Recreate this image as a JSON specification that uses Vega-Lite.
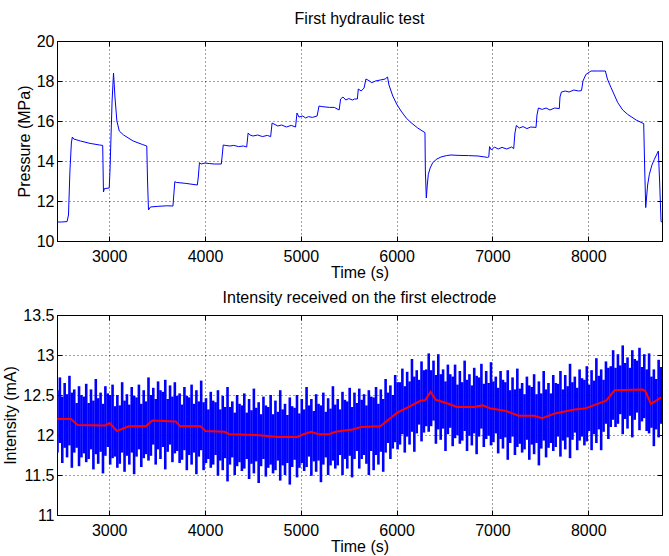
{
"$schema": "https://vega.github.io/schema/vega-lite/v6.json",
"padding": {"left": 2, "top": 10, "right": 6, "bottom": 0},
"background": "white",
"spacing": 8,
"config": {
  "font": "Liberation Sans",
  "view": {"stroke": "#000", "strokeWidth": 1},
  "axis": {"labelFont": "Liberation Sans", "labelFontSize": 16, "labelColor": "#000", "titleFont": "Liberation Sans", "titleFontSize": 16, "titleFontWeight": "normal", "titleColor": "#000", "domainColor": "#000", "domainWidth": 1, "tickColor": "#000", "tickSize": -5, "tickWidth": 1, "gridColor": "#000", "gridDash": [1, 3], "gridOpacity": 0.75, "gridWidth": 1},
  "axisX": {"labelPadding": 12, "titlePadding": 0},
  "axisY": {"labelPadding": 8, "titlePadding": 4},
  "title": {"font": "Liberation Sans", "fontSize": 16, "fontWeight": "normal", "color": "#000"}
},
"datasets": {
  "pressure": [
    {"t": 2455, "p": 10.95}, {"t": 2500, "p": 10.95}, {"t": 2560, "p": 10.97}, {"t": 2575, "p": 11.3}, {"t": 2590, "p": 13.5}, {"t": 2605, "p": 14.9}, {"t": 2615, "p": 15.2}, {"t": 2630, "p": 15.1}, {"t": 2700, "p": 15.0}, {"t": 2800, "p": 14.88}, {"t": 2900, "p": 14.8}, {"t": 2932, "p": 14.78},
    {"t": 2940, "p": 12.45}, {"t": 2950, "p": 12.62}, {"t": 3000, "p": 12.65}, {"t": 3008, "p": 13.5}, {"t": 3030, "p": 17.0}, {"t": 3045, "p": 18.4}, {"t": 3060, "p": 17.2}, {"t": 3080, "p": 16.0}, {"t": 3105, "p": 15.5}, {"t": 3150, "p": 15.3}, {"t": 3250, "p": 15.0}, {"t": 3350, "p": 14.82}, {"t": 3392, "p": 14.75},
    {"t": 3400, "p": 13.0}, {"t": 3410, "p": 11.55}, {"t": 3430, "p": 11.7}, {"t": 3500, "p": 11.73}, {"t": 3600, "p": 11.76}, {"t": 3665, "p": 11.75}, {"t": 3685, "p": 12.97}, {"t": 3700, "p": 12.93}, {"t": 3800, "p": 12.88}, {"t": 3920, "p": 12.8},
    {"t": 3930, "p": 13.2}, {"t": 3942, "p": 13.92}, {"t": 3960, "p": 13.85}, {"t": 4000, "p": 13.9}, {"t": 4050, "p": 13.87}, {"t": 4100, "p": 13.85}, {"t": 4170, "p": 13.85}, {"t": 4180, "p": 14.3}, {"t": 4190, "p": 14.8}, {"t": 4210, "p": 14.78}, {"t": 4260, "p": 14.75}, {"t": 4300, "p": 14.78}, {"t": 4350, "p": 14.72}, {"t": 4400, "p": 14.75}, {"t": 4435, "p": 14.7},
    {"t": 4450, "p": 15.4}, {"t": 4470, "p": 15.3}, {"t": 4500, "p": 15.25}, {"t": 4550, "p": 15.3}, {"t": 4600, "p": 15.22}, {"t": 4650, "p": 15.28}, {"t": 4685, "p": 15.22}, {"t": 4700, "p": 15.9}, {"t": 4720, "p": 15.85}, {"t": 4760, "p": 15.75}, {"t": 4800, "p": 15.8}, {"t": 4850, "p": 15.7}, {"t": 4900, "p": 15.78}, {"t": 4945, "p": 15.7},
    {"t": 4960, "p": 16.4}, {"t": 4980, "p": 16.2}, {"t": 5020, "p": 16.25}, {"t": 5050, "p": 16.15}, {"t": 5080, "p": 16.22}, {"t": 5120, "p": 16.18}, {"t": 5170, "p": 16.25}, {"t": 5190, "p": 16.75}, {"t": 5220, "p": 16.72}, {"t": 5300, "p": 16.68}, {"t": 5350, "p": 16.68}, {"t": 5400, "p": 16.55},
    {"t": 5415, "p": 17.1}, {"t": 5440, "p": 17.2}, {"t": 5470, "p": 17.05}, {"t": 5500, "p": 17.12}, {"t": 5540, "p": 17.05}, {"t": 5560, "p": 17.1}, {"t": 5590, "p": 17.1}, {"t": 5600, "p": 17.6}, {"t": 5630, "p": 17.5}, {"t": 5660, "p": 17.65}, {"t": 5680, "p": 18.1}, {"t": 5700, "p": 18.05}, {"t": 5740, "p": 17.92}, {"t": 5780, "p": 18.0}, {"t": 5830, "p": 18.05}, {"t": 5880, "p": 18.1}, {"t": 5905, "p": 18.2},
    {"t": 5920, "p": 17.8}, {"t": 5960, "p": 17.25}, {"t": 6000, "p": 16.85}, {"t": 6046, "p": 16.5}, {"t": 6100, "p": 16.15}, {"t": 6150, "p": 15.92}, {"t": 6220, "p": 15.65}, {"t": 6296, "p": 15.42},
    {"t": 6300, "p": 13.5}, {"t": 6310, "p": 12.15}, {"t": 6320, "p": 12.8}, {"t": 6331, "p": 13.33}, {"t": 6350, "p": 13.65}, {"t": 6377, "p": 13.92}, {"t": 6420, "p": 14.1}, {"t": 6463, "p": 14.2}, {"t": 6520, "p": 14.27}, {"t": 6568, "p": 14.3}, {"t": 6650, "p": 14.28}, {"t": 6750, "p": 14.27}, {"t": 6850, "p": 14.25}, {"t": 6950, "p": 14.18},
    {"t": 6962, "p": 14.2}, {"t": 6970, "p": 14.72}, {"t": 6990, "p": 14.55}, {"t": 7020, "p": 14.7}, {"t": 7060, "p": 14.6}, {"t": 7100, "p": 14.68}, {"t": 7150, "p": 14.6}, {"t": 7200, "p": 14.7}, {"t": 7222, "p": 14.62},
    {"t": 7235, "p": 15.4}, {"t": 7250, "p": 15.78}, {"t": 7280, "p": 15.65}, {"t": 7320, "p": 15.72}, {"t": 7360, "p": 15.62}, {"t": 7400, "p": 15.7}, {"t": 7455, "p": 15.68},
    {"t": 7465, "p": 16.3}, {"t": 7480, "p": 16.65}, {"t": 7520, "p": 16.58}, {"t": 7560, "p": 16.65}, {"t": 7600, "p": 16.55}, {"t": 7650, "p": 16.65}, {"t": 7698, "p": 16.62},
    {"t": 7705, "p": 17.2}, {"t": 7720, "p": 17.45}, {"t": 7760, "p": 17.5}, {"t": 7800, "p": 17.45}, {"t": 7850, "p": 17.55}, {"t": 7900, "p": 17.5}, {"t": 7930, "p": 17.52},
    {"t": 7945, "p": 18.0}, {"t": 7976, "p": 18.33}, {"t": 8030, "p": 18.5}, {"t": 8100, "p": 18.5}, {"t": 8179, "p": 18.5}, {"t": 8200, "p": 18.1}, {"t": 8238, "p": 17.67}, {"t": 8308, "p": 16.92}, {"t": 8360, "p": 16.55}, {"t": 8412, "p": 16.33}, {"t": 8500, "p": 16.05}, {"t": 8579, "p": 15.87},
    {"t": 8590, "p": 13.5}, {"t": 8600, "p": 11.67}, {"t": 8620, "p": 12.8}, {"t": 8638, "p": 13.33}, {"t": 8665, "p": 13.8}, {"t": 8690, "p": 14.08}, {"t": 8732, "p": 14.5}, {"t": 8745, "p": 13.0}, {"t": 8760, "p": 10.97}, {"t": 8775, "p": 10.95}
  ],
  "ma": [
    {"t": 2460, "i": 12.2}, {"t": 2600, "i": 12.2}, {"t": 2670, "i": 12.125}, {"t": 2960, "i": 12.12}, {"t": 3004, "i": 12.15}, {"t": 3080, "i": 12.05}, {"t": 3205, "i": 12.11}, {"t": 3383, "i": 12.11}, {"t": 3450, "i": 12.18}, {"t": 3694, "i": 12.17}, {"t": 3738, "i": 12.11}, {"t": 3952, "i": 12.11}, {"t": 4005, "i": 12.05}, {"t": 4205, "i": 12.04}, {"t": 4250, "i": 12.01}, {"t": 4539, "i": 12.0}, {"t": 4762, "i": 11.975}, {"t": 4962, "i": 11.975}, {"t": 5028, "i": 12.01}, {"t": 5108, "i": 12.04}, {"t": 5184, "i": 12.01}, {"t": 5295, "i": 12.01}, {"t": 5362, "i": 12.04}, {"t": 5540, "i": 12.07}, {"t": 5629, "i": 12.1}, {"t": 5829, "i": 12.11}, {"t": 6007, "i": 12.28}, {"t": 6141, "i": 12.36}, {"t": 6252, "i": 12.43}, {"t": 6296, "i": 12.43}, {"t": 6354, "i": 12.54}, {"t": 6408, "i": 12.44}, {"t": 6519, "i": 12.4}, {"t": 6630, "i": 12.35}, {"t": 6808, "i": 12.35}, {"t": 6897, "i": 12.37}, {"t": 6986, "i": 12.33}, {"t": 7142, "i": 12.3}, {"t": 7275, "i": 12.24}, {"t": 7431, "i": 12.24}, {"t": 7520, "i": 12.21}, {"t": 7653, "i": 12.27}, {"t": 7853, "i": 12.32}, {"t": 7964, "i": 12.33}, {"t": 8187, "i": 12.43}, {"t": 8276, "i": 12.56}, {"t": 8565, "i": 12.57}, {"t": 8596, "i": 12.55}, {"t": 8654, "i": 12.39}, {"t": 8698, "i": 12.42}, {"t": 8760, "i": 12.47}
  ],
  "noise": [
    {"t":2460,"lo":11.78,"hi":12.56},{"t":2485,"lo":11.90,"hi":12.72},{"t":2510,"lo":11.65,"hi":12.48},{"t":2535,"lo":11.84,"hi":12.65},{"t":2560,"lo":11.72,"hi":12.51},{"t":2585,"lo":11.87,"hi":12.74},{"t":2610,"lo":11.59,"hi":12.53},{"t":2635,"lo":11.78,"hi":12.57},{"t":2660,"lo":11.84,"hi":12.40},{"t":2685,"lo":11.61,"hi":12.61},
    {"t":2710,"lo":11.72,"hi":12.50},{"t":2735,"lo":11.77,"hi":12.48},{"t":2760,"lo":11.66,"hi":12.64},{"t":2785,"lo":11.70,"hi":12.40},{"t":2810,"lo":11.82,"hi":12.57},{"t":2835,"lo":11.57,"hi":12.43},{"t":2860,"lo":11.76,"hi":12.70},{"t":2885,"lo":11.64,"hi":12.46},{"t":2910,"lo":11.79,"hi":12.53},{"t":2935,"lo":11.52,"hi":12.39},
    {"t":2960,"lo":11.74,"hi":12.61},{"t":2985,"lo":11.85,"hi":12.52},{"t":3010,"lo":11.63,"hi":12.50},{"t":3035,"lo":11.71,"hi":12.63},{"t":3060,"lo":11.73,"hi":12.36},{"t":3085,"lo":11.59,"hi":12.50},{"t":3110,"lo":11.64,"hi":12.37},{"t":3135,"lo":11.78,"hi":12.66},{"t":3160,"lo":11.54,"hi":12.43},{"t":3185,"lo":11.74,"hi":12.51},
    {"t":3210,"lo":11.63,"hi":12.38},{"t":3235,"lo":11.78,"hi":12.60},{"t":3260,"lo":11.51,"hi":12.49},{"t":3285,"lo":11.73,"hi":12.47},{"t":3310,"lo":11.82,"hi":12.63},{"t":3335,"lo":11.60,"hi":12.39},{"t":3360,"lo":11.71,"hi":12.56},{"t":3385,"lo":11.76,"hi":12.42},{"t":3410,"lo":11.68,"hi":12.72},{"t":3435,"lo":11.74,"hi":12.50},
    {"t":3460,"lo":11.88,"hi":12.59},{"t":3485,"lo":11.63,"hi":12.45},{"t":3510,"lo":11.82,"hi":12.67},{"t":3535,"lo":11.70,"hi":12.56},{"t":3560,"lo":11.85,"hi":12.54},{"t":3585,"lo":11.57,"hi":12.69},{"t":3610,"lo":11.79,"hi":12.45},{"t":3635,"lo":11.88,"hi":12.62},{"t":3660,"lo":11.66,"hi":12.48},{"t":3685,"lo":11.77,"hi":12.66},
    {"t":3710,"lo":11.80,"hi":12.49},{"t":3735,"lo":11.65,"hi":12.52},{"t":3760,"lo":11.69,"hi":12.38},{"t":3785,"lo":11.81,"hi":12.60},{"t":3810,"lo":11.56,"hi":12.49},{"t":3835,"lo":11.75,"hi":12.47},{"t":3860,"lo":11.63,"hi":12.63},{"t":3885,"lo":11.78,"hi":12.39},{"t":3910,"lo":11.51,"hi":12.56},{"t":3935,"lo":11.73,"hi":12.42},
    {"t":3960,"lo":11.81,"hi":12.68},{"t":3985,"lo":11.56,"hi":12.41},{"t":4010,"lo":11.65,"hi":12.46},{"t":4035,"lo":11.70,"hi":12.32},{"t":4060,"lo":11.59,"hi":12.54},{"t":4085,"lo":11.63,"hi":12.43},{"t":4110,"lo":11.75,"hi":12.41},{"t":4135,"lo":11.49,"hi":12.56},{"t":4160,"lo":11.68,"hi":12.32},{"t":4185,"lo":11.56,"hi":12.49},
    {"t":4210,"lo":11.71,"hi":12.35},{"t":4235,"lo":11.42,"hi":12.60},{"t":4260,"lo":11.63,"hi":12.35},{"t":4285,"lo":11.72,"hi":12.42},{"t":4310,"lo":11.50,"hi":12.28},{"t":4335,"lo":11.61,"hi":12.50},{"t":4360,"lo":11.66,"hi":12.39},{"t":4385,"lo":11.55,"hi":12.37},{"t":4410,"lo":11.58,"hi":12.52},{"t":4435,"lo":11.70,"hi":12.28},
    {"t":4460,"lo":11.45,"hi":12.45},{"t":4485,"lo":11.64,"hi":12.31},{"t":4510,"lo":11.52,"hi":12.58},{"t":4535,"lo":11.67,"hi":12.34},{"t":4560,"lo":11.40,"hi":12.41},{"t":4585,"lo":11.61,"hi":12.26},{"t":4610,"lo":11.70,"hi":12.48},{"t":4635,"lo":11.48,"hi":12.37},{"t":4660,"lo":11.59,"hi":12.35},{"t":4685,"lo":11.63,"hi":12.50},
    {"t":4710,"lo":11.52,"hi":12.26},{"t":4735,"lo":11.56,"hi":12.43},{"t":4760,"lo":11.68,"hi":12.29},{"t":4785,"lo":11.43,"hi":12.56},{"t":4810,"lo":11.62,"hi":12.32},{"t":4835,"lo":11.50,"hi":12.39},{"t":4860,"lo":11.65,"hi":12.25},{"t":4885,"lo":11.38,"hi":12.47},{"t":4910,"lo":11.60,"hi":12.36},{"t":4935,"lo":11.69,"hi":12.34},
    {"t":4960,"lo":11.47,"hi":12.50},{"t":4985,"lo":11.59,"hi":12.27},{"t":5010,"lo":11.65,"hi":12.45},{"t":5035,"lo":11.55,"hi":12.32},{"t":5060,"lo":11.60,"hi":12.60},{"t":5085,"lo":11.73,"hi":12.37},{"t":5110,"lo":11.49,"hi":12.45},{"t":5135,"lo":11.67,"hi":12.30},{"t":5160,"lo":11.54,"hi":12.51},{"t":5185,"lo":11.68,"hi":12.39},
    {"t":5210,"lo":11.41,"hi":12.37},{"t":5235,"lo":11.63,"hi":12.53},{"t":5260,"lo":11.72,"hi":12.29},{"t":5285,"lo":11.50,"hi":12.46},{"t":5310,"lo":11.62,"hi":12.33},{"t":5335,"lo":11.68,"hi":12.61},{"t":5360,"lo":11.58,"hi":12.38},{"t":5385,"lo":11.62,"hi":12.45},{"t":5410,"lo":11.75,"hi":12.32},{"t":5435,"lo":11.50,"hi":12.54},
    {"t":5460,"lo":11.70,"hi":12.44},{"t":5485,"lo":11.58,"hi":12.42},{"t":5510,"lo":11.74,"hi":12.59},{"t":5535,"lo":11.47,"hi":12.35},{"t":5560,"lo":11.70,"hi":12.53},{"t":5585,"lo":11.80,"hi":12.40},{"t":5610,"lo":11.58,"hi":12.58},{"t":5635,"lo":11.70,"hi":12.44},{"t":5660,"lo":11.75,"hi":12.51},{"t":5685,"lo":11.64,"hi":12.37},
    {"t":5710,"lo":11.50,"hi":12.56},{"t":5735,"lo":11.80,"hi":12.48},{"t":5760,"lo":11.56,"hi":12.47},{"t":5785,"lo":11.75,"hi":12.60},{"t":5810,"lo":11.63,"hi":12.39},{"t":5835,"lo":11.79,"hi":12.57},{"t":5860,"lo":11.54,"hi":12.45},{"t":5885,"lo":11.78,"hi":12.70},{"t":5910,"lo":11.90,"hi":12.53},{"t":5935,"lo":11.70,"hi":12.62},
    {"t":5960,"lo":11.83,"hi":12.50},{"t":5985,"lo":11.91,"hi":12.75},{"t":6010,"lo":11.82,"hi":12.66},{"t":6035,"lo":11.88,"hi":12.66},{"t":6060,"lo":12.01,"hi":12.83},{"t":6085,"lo":11.78,"hi":12.61},{"t":6110,"lo":11.98,"hi":12.79},{"t":6135,"lo":11.88,"hi":12.67},{"t":6160,"lo":12.04,"hi":12.95},{"t":6185,"lo":11.79,"hi":12.73},
    {"t":6210,"lo":12.02,"hi":12.81},{"t":6235,"lo":12.13,"hi":12.69},{"t":6260,"lo":11.92,"hi":12.92},{"t":6285,"lo":12.03,"hi":12.81},{"t":6310,"lo":12.11,"hi":12.82},{"t":6335,"lo":12.04,"hi":13.02},{"t":6360,"lo":12.11,"hi":12.81},{"t":6385,"lo":12.18,"hi":12.93},{"t":6410,"lo":11.89,"hi":12.75},{"t":6435,"lo":12.07,"hi":13.01},
    {"t":6460,"lo":11.94,"hi":12.76},{"t":6485,"lo":12.08,"hi":12.82},{"t":6510,"lo":11.80,"hi":12.67},{"t":6535,"lo":12.01,"hi":12.88},{"t":6560,"lo":12.09,"hi":12.76},{"t":6585,"lo":11.86,"hi":12.73},{"t":6610,"lo":11.96,"hi":12.88},{"t":6635,"lo":12.00,"hi":12.63},{"t":6660,"lo":11.89,"hi":12.80},{"t":6685,"lo":11.93,"hi":12.66},
    {"t":6710,"lo":12.05,"hi":12.93},{"t":6735,"lo":11.80,"hi":12.69},{"t":6760,"lo":11.99,"hi":12.76},{"t":6785,"lo":11.87,"hi":12.62},{"t":6810,"lo":12.02,"hi":12.84},{"t":6835,"lo":11.76,"hi":12.74},{"t":6860,"lo":11.98,"hi":12.72},{"t":6885,"lo":12.08,"hi":12.89},{"t":6910,"lo":11.85,"hi":12.64},{"t":6935,"lo":11.95,"hi":12.80},
    {"t":6960,"lo":11.99,"hi":12.65},{"t":6985,"lo":11.87,"hi":12.91},{"t":7010,"lo":11.91,"hi":12.67},{"t":7035,"lo":12.02,"hi":12.73},{"t":7060,"lo":11.77,"hi":12.59},{"t":7085,"lo":11.95,"hi":12.80},{"t":7110,"lo":11.83,"hi":12.69},{"t":7135,"lo":11.97,"hi":12.66},{"t":7160,"lo":11.69,"hi":12.81},{"t":7185,"lo":11.90,"hi":12.56},
    {"t":7210,"lo":11.98,"hi":12.72},{"t":7235,"lo":11.75,"hi":12.57},{"t":7260,"lo":11.85,"hi":12.83},{"t":7285,"lo":11.89,"hi":12.58},{"t":7310,"lo":11.78,"hi":12.65},{"t":7335,"lo":11.82,"hi":12.51},{"t":7360,"lo":11.94,"hi":12.73},{"t":7385,"lo":11.69,"hi":12.62},{"t":7410,"lo":11.88,"hi":12.60},{"t":7435,"lo":11.76,"hi":12.76},
    {"t":7460,"lo":11.90,"hi":12.51},{"t":7485,"lo":11.62,"hi":12.67},{"t":7510,"lo":11.83,"hi":12.52},{"t":7535,"lo":11.93,"hi":12.80},{"t":7560,"lo":11.72,"hi":12.57},{"t":7585,"lo":11.84,"hi":12.65},{"t":7610,"lo":11.90,"hi":12.52},{"t":7635,"lo":11.80,"hi":12.75},{"t":7660,"lo":11.85,"hi":12.65},{"t":7685,"lo":11.98,"hi":12.64},
    {"t":7710,"lo":11.73,"hi":12.80},{"t":7735,"lo":11.93,"hi":12.57},{"t":7760,"lo":11.82,"hi":12.75},{"t":7785,"lo":11.97,"hi":12.61},{"t":7810,"lo":11.71,"hi":12.89},{"t":7835,"lo":11.94,"hi":12.66},{"t":7860,"lo":12.03,"hi":12.73},{"t":7885,"lo":11.81,"hi":12.59},{"t":7910,"lo":11.93,"hi":12.82},{"t":7935,"lo":11.98,"hi":12.71},
    {"t":7960,"lo":11.87,"hi":12.69},{"t":7985,"lo":11.92,"hi":12.86},{"t":8010,"lo":12.05,"hi":12.63},{"t":8035,"lo":11.81,"hi":12.81},{"t":8060,"lo":12.01,"hi":12.68},{"t":8085,"lo":11.90,"hi":12.96},{"t":8110,"lo":12.07,"hi":12.74},{"t":8135,"lo":11.81,"hi":12.82},{"t":8160,"lo":12.04,"hi":12.69},{"t":8185,"lo":12.14,"hi":12.92},
    {"t":8210,"lo":11.95,"hi":12.84},{"t":8235,"lo":12.10,"hi":12.86},{"t":8260,"lo":12.19,"hi":13.06},{"t":8285,"lo":12.10,"hi":12.84},{"t":8310,"lo":12.14,"hi":13.01},{"t":8335,"lo":12.26,"hi":12.87},{"t":8360,"lo":12.01,"hi":13.12},{"t":8385,"lo":12.20,"hi":12.90},{"t":8410,"lo":12.08,"hi":12.97},{"t":8435,"lo":12.24,"hi":12.84},
    {"t":8460,"lo":11.97,"hi":13.06},{"t":8485,"lo":12.19,"hi":12.95},{"t":8510,"lo":12.28,"hi":12.93},{"t":8535,"lo":12.06,"hi":13.09},{"t":8560,"lo":12.17,"hi":12.85},{"t":8585,"lo":12.21,"hi":13.01},{"t":8610,"lo":12.05,"hi":12.82},{"t":8635,"lo":12.02,"hi":13.02},{"t":8660,"lo":12.09,"hi":12.73},{"t":8685,"lo":11.86,"hi":12.82},
    {"t":8710,"lo":12.07,"hi":12.70},{"t":8735,"lo":11.97,"hi":12.94},{"t":8760,"lo":12.14,"hi":12.85}
  ]
},
"vconcat": [
  {
    "width": 605, "height": 200,
    "title": {"text": "First hydraulic test", "offset": 6},
    "data": {"name": "pressure"},
    "resolve": {"axis": {"x": "independent", "y": "independent"}},
    "layer": [
      {
        "mark": {"type": "line", "color": "#0000ff", "strokeWidth": 1, "clip": true},
        "encoding": {
          "x": {"field": "t", "type": "quantitative", "scale": {"domain": [2455, 8770], "nice": false, "zero": false}, "axis": {"title": "Time (s)", "values": [3000, 4000, 5000, 6000, 7000, 8000], "format": "d", "orient": "bottom"}},
          "y": {"field": "p", "type": "quantitative", "scale": {"domain": [10, 20], "nice": false, "zero": false}, "axis": {"title": "Pressure (MPa)", "values": [10, 12, 14, 16, 18, 20], "format": "d", "orient": "left"}}
        }
      },
      {
        "mark": {"type": "line", "opacity": 0, "clip": true},
        "encoding": {
          "x": {"field": "t", "type": "quantitative", "scale": {"domain": [2455, 8770], "nice": false, "zero": false}, "axis": {"orient": "top", "title": null, "labels": false, "grid": false, "domain": false, "values": [3000, 4000, 5000, 6000, 7000, 8000]}},
          "y": {"field": "p", "type": "quantitative", "scale": {"domain": [10, 20], "nice": false, "zero": false}, "axis": {"orient": "right", "title": null, "labels": false, "grid": false, "domain": false, "values": [10, 12, 14, 16, 18, 20]}}
        }
      }
    ]
  },
  {
    "width": 605, "height": 200,
    "title": {"text": "Intensity received on the first electrode", "offset": 1},
    "resolve": {"axis": {"x": "independent", "y": "independent"}},
    "layer": [
      {
        "data": {"name": "noise"},
        "mark": {"type": "rule", "color": "#0000ff", "strokeWidth": 2.6, "clip": true},
        "encoding": {
          "x": {"field": "t", "type": "quantitative", "scale": {"domain": [2455, 8770], "nice": false, "zero": false}, "axis": {"title": "Time (s)", "values": [3000, 4000, 5000, 6000, 7000, 8000], "format": "d", "orient": "bottom"}},
          "y": {"field": "lo", "type": "quantitative", "scale": {"domain": [11, 13.5], "nice": false, "zero": false}, "axis": {"title": "Intensity (mA)", "values": [11, 11.5, 12, 12.5, 13, 13.5], "format": "~g", "orient": "left"}},
          "y2": {"field": "hi"}
        }
      },
      {
        "data": {"name": "ma"},
        "mark": {"type": "line", "color": "#ff0000", "strokeWidth": 2, "clip": true},
        "encoding": {
          "x": {"field": "t", "type": "quantitative", "scale": {"domain": [2455, 8770], "nice": false, "zero": false}, "axis": {"orient": "top", "title": null, "labels": false, "grid": false, "domain": false, "values": [3000, 4000, 5000, 6000, 7000, 8000]}},
          "y": {"field": "i", "type": "quantitative", "scale": {"domain": [11, 13.5], "nice": false, "zero": false}, "axis": {"orient": "right", "title": null, "labels": false, "grid": false, "domain": false, "values": [11, 11.5, 12, 12.5, 13, 13.5]}}
        }
      }
    ]
  }
]
}
